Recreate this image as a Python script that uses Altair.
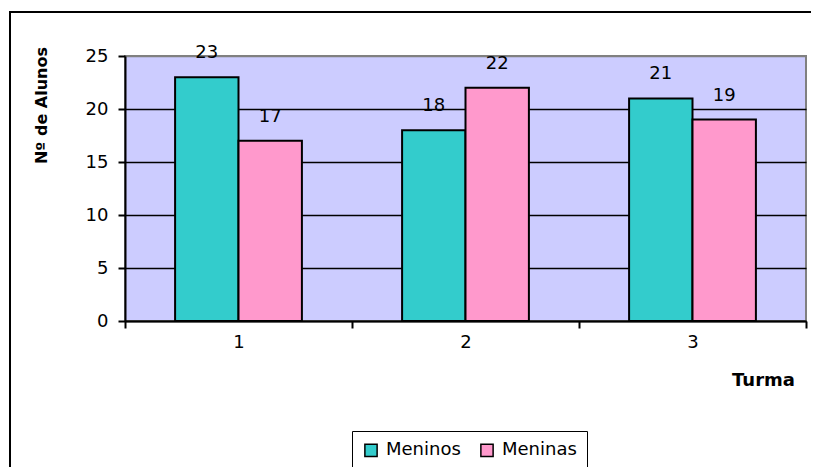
import altair as alt
import pandas as pd

turmas = ["1", "2", "3"]
meninos = [23, 18, 21]
meninas = [17, 22, 19]
series = ["Meninos", "Meninas"]
colors = ["#33CCCC", "#FF99CC"]
y_ticks = [0, 5, 10, 15, 20, 25]

rows = []
for t, a, b in zip(turmas, meninos, meninas):
    rows.append({"Turma": t, "Sexo": "Meninos", "Alunos": a})
    rows.append({"Turma": t, "Sexo": "Meninas", "Alunos": b})
df = pd.DataFrame(rows)

FONT = "DejaVu Sans"

x_enc = alt.X(
    "Turma:N",
    sort=turmas,
    scale=alt.Scale(paddingInner=0, paddingOuter=0),
    axis=alt.Axis(
        title="Turma",
        labelAngle=0,
        tickBand="extent",
        tickSize=7,
        tickColor="black",
        tickWidth=2,
        domainColor="black",
        domainWidth=2,
        labelPadding=5,
        labelFontSize=18,
        labelColor="black",
        labelFont=FONT,
        titleFont=FONT,
        titleFontSize=18,
        titleFontWeight="bold",
        titleColor="black",
        titleX=638,
        titleY=59,
        titleAlign="center",
        titleBaseline="middle",
        titleAngle=0,
    ),
)
xoff_enc = alt.XOffset(
    "Sexo:N", sort=series, scale=alt.Scale(paddingOuter=0.79, paddingInner=0)
)
y_enc = alt.Y(
    "Alunos:Q",
    scale=alt.Scale(domain=[0, 25], nice=False),
    axis=alt.Axis(
        title="Nº de Alunos",
        values=y_ticks,
        tickSize=7,
        tickColor="black",
        tickWidth=2,
        domainColor="black",
        domainWidth=2,
        gridColor={"condition": {"test": "datum.value === 25", "value": "#808080"}, "value": "black"},
        gridWidth=1.6,
        labelPadding=10,
        labelFontSize=18,
        labelColor="black",
        labelFont=FONT,
        titleFont=FONT,
        titleFontSize=16,
        titleFontWeight="bold",
        titleColor="black",
        titleAngle=-90,
        titleX=-84,
        titleY=49,
        titleAlign="center",
        titleBaseline="middle",
    ),
)

bars = alt.Chart(df).mark_bar(stroke="black", strokeWidth=2).encode(
    x=x_enc,
    xOffset=xoff_enc,
    y=y_enc,
    color=alt.Color(
        "Sexo:N",
        sort=series,
        scale=alt.Scale(domain=series, range=colors),
        legend=alt.Legend(
            title=None,
            orient="none",
            legendX=227,
            legendY=375,
            direction="horizontal",
            strokeColor="black",
            fillColor="white",
            padding=10,
            symbolType="square",
            symbolSize=150,
            symbolStrokeColor="black",
            symbolStrokeWidth=1.5,
            symbolOpacity=1,
            labelFontSize=18,
            labelFont=FONT,
            labelColor="black",
            labelOffset=6,
            columnPadding=16,
        ),
    ),
)

labels = alt.Chart(df).mark_text(
    dy=-24, baseline="middle", fontSize=18, font=FONT, color="black"
).encode(
    x=alt.X("Turma:N", sort=turmas),
    xOffset=alt.XOffset("Sexo:N", sort=series),
    y=alt.Y("Alunos:Q"),
    text="Alunos:Q",
)

frame_df = pd.DataFrame({"b": [0]})
border_left = alt.Chart(frame_df).mark_rule(color="black", strokeWidth=2).encode(
    x=alt.value(-115), y=alt.value(-45), y2=alt.value(420)
)
border_top = alt.Chart(frame_df).mark_rule(color="black", strokeWidth=2).encode(
    x=alt.value(-116), x2=alt.value(686), y=alt.value(-44)
)

chart = (
    alt.layer(bars, labels, border_left, border_top)
    .properties(
        width=681,
        height=265,
        autosize=alt.AutoSizeParams(type="none"),
        padding={"left": 117, "top": 48, "right": 6, "bottom": 146},
        background="white",
    )
    .configure_view(fill="#CCCCFF", stroke="#808080", strokeWidth=2)
)

chart.save("out.html", embed_options={"renderer": "svg", "actions": False})
